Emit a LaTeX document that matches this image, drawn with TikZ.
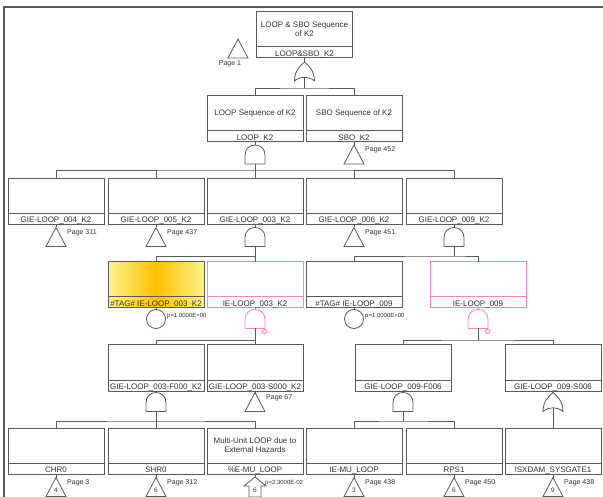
\documentclass[tikz,border=0pt]{standalone}
\usepackage{fontspec}
\setmainfont{Liberation Sans}
\definecolor{ln}{HTML}{5A5A5A}
\definecolor{tx}{HTML}{333333}
\definecolor{pk}{HTML}{FF80C8}
\definecolor{yl}{HTML}{FFF38A}
\definecolor{ym}{HTML}{FFC000}
\tikzset{
 fbox/.style={draw, line width=1pt, minimum width=96pt, minimum height=46pt, inner sep=0pt, outer sep=0pt},
 desc/.style={text=tx, align=center, font=\fontsize{8}{9.5}\selectfont, inner sep=0pt},
 lab/.style={text=tx, font=\fontsize{8}{9}\selectfont, inner sep=0pt, anchor=base},
 pg/.style={text=tx, font=\fontsize{7}{8}\selectfont, inner sep=0pt, anchor=west},
 pv/.style={text=tx, font=\fontsize{6}{7}\selectfont, inner sep=0pt, anchor=west},
 num/.style={text=tx, font=\fontsize{6.5}{7}\selectfont, inner sep=0pt},
 cn/.style={line width=0.8pt},
 gl/.style={line width=0.8pt, fill=white},
 andg/.pic={\draw[gl] (-10,9.5) -- (-10,0.5) .. controls (-10,-12.8) and (10,-12.8) .. (10,0.5) -- (10,9.5) -- cycle;
   \coordinate (-t) at (0,-9.5); \coordinate (-b) at (0,9.5);},
 nandg/.pic={\draw[gl] (-10,9.5) -- (-10,0.5) .. controls (-10,-12.8) and (10,-12.8) .. (10,0.5) -- (10,9.5) -- cycle;
   \draw[gl] (9.5,12.5) circle[radius=2.2];
   \coordinate (-t) at (0,-9.5); \coordinate (-b) at (0,9.5);},
 org/.pic={\draw[gl] (0,-9.5) .. controls (4,-6) and (10,-1) .. (10,9.5) .. controls (4,4.5) and (-4,4.5) .. (-10,9.5) .. controls (-10,-1) and (-4,-6) .. cycle;
   \coordinate (-t) at (0,-9.5); \coordinate (-b) at (0,5.75);},
 trig/.pic={\draw[gl] (0,-9.5) -- (10,9.5) -- (-10,9.5) -- cycle;
   \coordinate (-t) at (0,-9.5); \coordinate (-b) at (0,9.5);},
 circg/.pic={\draw[gl] (0,0) circle[radius=9.5];
   \coordinate (-t) at (0,-9.5); \coordinate (-b) at (0,9.5);},
 houseg/.pic={\draw[gl] (0,-10) -- (11,-1) -- (6,-1) -- (6,10) -- (-6,10) -- (-6,-1) -- (-11,-1) -- cycle;
   \coordinate (-t) at (0,-10); \coordinate (-b) at (0,10);},
}
\newcommand\FT[6]{%
 \node[fbox, draw=#5, #6] (#1) at (#2) {};
 \draw[line width=1pt, #5] ([yshift=11pt]#1.south west) -- ([yshift=11pt]#1.south east);
 \node[desc] (#1d) at ([yshift=6pt]#1.center) {#3};
 \node[lab] (#1l) at ([yshift=1.8pt]#1.south) {#4};
}
\begin{document}
\begin{tikzpicture}[x=1pt,y=-1pt,color=ln]
\useasboundingbox (0,0) rectangle (603,497);
\draw[line width=1.5pt, color=ln] (4,497) -- (4,7) -- (603,7);

% boxes
\FT{T}{304.5,35}{LOOP \& SBO Sequence\\of K2}{LOOP\&SBO\_K2}{ln}{fill=white}
\FT{L2}{255,119}{LOOP Sequence of K2}{LOOP\_K2}{ln}{fill=white}
\FT{S2}{354,119}{SBO Sequence of K2}{SBO\_K2}{ln}{fill=white}
\FT{b31}{56,201.5}{}{GIE-LOOP\_004\_K2}{ln}{fill=white}
\FT{b32}{156,201.5}{}{GIE-LOOP\_005\_K2}{ln}{fill=white}
\FT{b33}{255,201.5}{}{GIE-LOOP\_003\_K2}{ln}{fill=white}
\FT{b34}{354,201.5}{}{GIE-LOOP\_006\_K2}{ln}{fill=white}
\FT{b35}{454,201.5}{}{GIE-LOOP\_009\_K2}{ln}{fill=white}
\FT{b41}{156,285}{}{\#TAG\# IE-LOOP\_003\_K2}{ln}{left color=yl, right color=yl, middle color=ym}
\FT{b42}{255,285}{}{IE-LOOP\_003\_K2}{pk}{fill=white}
\FT{b43}{354,285}{}{\#TAG\# IE-LOOP\_009}{ln}{fill=white}
\FT{b44}{478,285}{}{IE-LOOP\_009}{pk}{fill=white}
\FT{b51}{156,368}{}{GIE-LOOP\_003-F000\_K2}{ln}{fill=white}
\FT{b52}{255,368}{}{GIE-LOOP\_003-S000\_K2}{ln}{fill=white}
\FT{b53}{403,368}{}{GIE-LOOP\_009-F006}{ln}{fill=white}
\FT{b54}{553,368}{}{GIE-LOOP\_009-S006}{ln}{fill=white}
\FT{b61}{56,451}{}{CHR0}{ln}{fill=white}
\FT{b62}{156,451}{}{SHR0}{ln}{fill=white}
\FT{b63}{255,451}{Multi-Unit LOOP due to\\External Hazards}{\%E-MU\_LOOP}{ln}{fill=white}
\FT{b64}{354,451}{}{IE-MU\_LOOP}{ln}{fill=white}
\FT{b65}{454,451}{}{RPS1}{ln}{fill=white}
\FT{b66}{553,451}{}{!SXDAM\_SYSGATE1}{ln}{fill=white}

% gates
\pic (tP) at (238,48.5) {trig};
\node[pg, anchor=center] (pP) at (230,64) {Page 1};
\pic (gT) at (304.5,71.5) {org};
\pic (gL) at (255,154.5) {andg};
\pic (tS) at (354,154.5) {trig};
\node[pg] (pS) at (365,150) {Page 452};
\pic (t31) at (56,237) {trig};
\node[pg] (p31) at (67,233) {Page 311};
\pic (t32) at (156,237) {trig};
\node[pg] (p32) at (167,233) {Page 437};
\pic (g33) at (255,237) {andg};
\pic (t34) at (354,237) {trig};
\node[pg] (p34) at (365,233) {Page 451};
\pic (g35) at (454,237) {andg};
\pic (c41) at (156,319) {circg};
\node[pv] (v41) at (167,316) {p=1.0000E+00};
\pic[color=pk] (n42) at (255,319) {nandg};
\pic (c43) at (354,319) {circg};
\node[pv] (v43) at (365,316) {p=1.0000E+00};
\pic[color=pk] (n44) at (478,319) {nandg};
\pic (g51) at (156,402) {andg};
\pic (t52) at (255,402) {trig};
\node[pg] (p52) at (266,398) {Page 67};
\pic (g53) at (403,402) {andg};
\pic (g54) at (553,402) {org};
\pic (t61) at (56,487) {trig};
\node[num] (n61) at (56,490) {4};
\node[pg] (p61) at (67,483) {Page 3};
\pic (t62) at (156,487) {trig};
\node[num] (n62) at (156,490) {6};
\node[pg] (p62) at (167,483) {Page 312};
\pic (h63) at (255,487) {houseg};
\node[num] (n63) at (255,490) {6};
\node[pv] (v63) at (265,483) {p=2.3000E-02};
\pic (t64) at (354,487) {trig};
\node[num] (n64) at (354,490) {3};
\node[pg] (p64) at (365,483) {Page 438};
\pic (t65) at (454,487) {trig};
\node[num] (n65) at (454,490) {6};
\node[pg] (p65) at (465,483) {Page 450};
\pic (t66) at (553,487) {trig};
\node[num] (n66) at (553,490) {9};
\node[pg] (p66) at (564,483) {Page 438};

% bars
\coordinate (A) at (304.5,88);
\coordinate (B) at (255,170);
\coordinate (C1) at (255,256);
\coordinate (C2) at (454,256);
\coordinate (D1) at (255,340);
\coordinate (D2) at (478,340);
\coordinate (E1) at (156,421);
\coordinate (E2) at (403,421);

% connectors
\draw[cn] (T) -- (gT-t);
\draw[cn] (gT-b) -- (A);
\draw[cn] (L2.north) |- (A) -| (S2.north);
\draw[cn] (L2) -- (gL-t);
\draw[cn] (S2) -- (tS-t);
\draw[cn] (gL-b) -- (B);
\draw[cn] (b31.north) |- (B) -| (b35.north);
\draw[cn] (b32.north) -- (b32.north |- B);
\draw[cn] (b33.north) -- (B);
\draw[cn] (b34.north) -- (b34.north |- B);
\draw[cn] (b31) -- (t31-t);
\draw[cn] (b32) -- (t32-t);
\draw[cn] (b33) -- (g33-t);
\draw[cn] (b34) -- (t34-t);
\draw[cn] (b35) -- (g35-t);
\draw[cn] (g33-b) -- (C1);
\draw[cn] (b41.north) |- (C1) -- (b42.north);
\draw[cn] (g35-b) -- (C2);
\draw[cn] (b43.north) |- (C2) -| (b44.north);
\draw[cn] (b41) -- (c41-t);
\draw[cn,pk] (b42) -- (n42-t);
\draw[cn] (b43) -- (c43-t);
\draw[cn,pk] (b44) -- (n44-t);
\draw[cn] (n42-b) -- (D1);
\draw[cn] (b51.north) |- (D1) -- (b52.north);
\draw[cn] (n44-b) -- (D2);
\draw[cn] (b53.north) |- (D2) -| (b54.north);
\draw[cn] (b51) -- (g51-t);
\draw[cn] (b52) -- (t52-t);
\draw[cn] (b53) -- (g53-t);
\draw[cn] (b54) -- (g54-t);
\draw[cn] (g51-b) -- (E1);
\draw[cn] (b61.north) |- (E1) -| (b63.north);
\draw[cn] (b62.north) -- (E1);
\draw[cn] (g53-b) -- (E2);
\draw[cn] (b64.north) |- (E2) -| (b65.north);
\draw[cn] (g54-b) -- (b66.north);
\draw[cn] (b61) -- (t61-t);
\draw[cn] (b62) -- (t62-t);
\draw[cn] (b63) -- (h63-t);
\draw[cn] (b64) -- (t64-t);
\draw[cn] (b65) -- (t65-t);
\draw[cn] (b66) -- (t66-t);
\end{tikzpicture}
\end{document}
